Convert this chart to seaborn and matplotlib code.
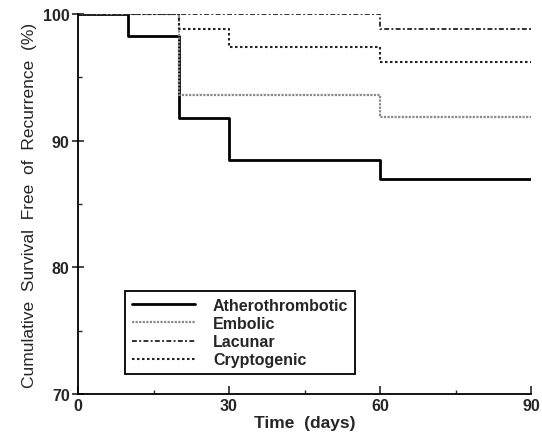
import pandas as pd
import matplotlib.pyplot as plt
import seaborn as sns
from matplotlib.ticker import MultipleLocator

days = [0, 10, 20, 30, 60, 90]
groups = ["Atherothrombotic", "Embolic", "Lacunar", "Cryptogenic"]
athero = [100, 98.3, 91.8, 88.5, 87.0, 87.0]
embolic = [100, 100, 93.6, 93.6, 91.9, 91.9]
lacunar = [100, 100, 100, 100, 98.8, 98.8]
crypto = [100, 100, 98.8, 97.4, 96.2, 96.2]

styles = {
    "Atherothrombotic": dict(color="black", lw=2.0, ls="-"),
    "Embolic": dict(color="#8a8a8a", lw=1.6, ls=(0, (1, 0.6))),
    "Lacunar": dict(color="#333333", lw=1.4, ls=(0, (2.5, 1.2, 1, 1.2))),
    "Cryptogenic": dict(color="#222222", lw=1.5, ls=(0, (1.2, 1.2))),
}


def main():
    sns.set_style("ticks")
    plt.rcParams["font.family"] = ["Liberation Sans", "DejaVu Sans"]

    df = pd.DataFrame({
        "day": days * 4,
        "survival": athero + embolic + lacunar + crypto,
        "group": [g for g in groups for _ in days],
    })

    fig = plt.figure(figsize=(5.42, 4.39), dpi=100)
    ax = fig.add_axes([78 / 542, 44 / 439, 453 / 542, 380 / 439])

    for g in groups:
        sub = df[df["group"] == g]
        st = styles[g]
        sns.lineplot(data=sub, x="day", y="survival", ax=ax, drawstyle="steps-post",
                     color=st["color"], linewidth=st["lw"], linestyle=st["ls"],
                     label=g, estimator=None)

    ax.set_xlim(0, 90)
    ax.set_ylim(70, 100)
    ax.set_xticks([0, 30, 60, 90])
    ax.set_yticks([70, 80, 90, 100])
    ax.xaxis.set_minor_locator(MultipleLocator(15))
    ax.yaxis.set_minor_locator(MultipleLocator(5))
    ax.tick_params(axis="x", which="major", direction="in", length=6, width=1.2, pad=3)
    ax.tick_params(axis="x", which="minor", direction="in", length=3, width=1)
    ax.tick_params(axis="y", which="major", direction="inout", length=8, width=1.2, pad=2)
    ax.tick_params(axis="y", which="minor", direction="in", length=3, width=1)
    for lab in ax.get_xticklabels() + ax.get_yticklabels():
        lab.set_fontweight("bold")
        lab.set_fontsize(11.5)
    sns.despine(ax=ax)
    for side in ["left", "bottom"]:
        ax.spines[side].set_linewidth(1.3)
        ax.spines[side].set_color("black")

    ax.set_xlabel("Time  (days)", fontsize=12.5, fontweight="bold", labelpad=1)
    ax.set_ylabel("Cumulative  Survival  Free  of  Recurrence  (%)", fontsize=12.5, labelpad=4)

    leg = ax.legend(loc="lower left", bbox_to_anchor=(0.104, 0.053), frameon=True,
                    fancybox=False, edgecolor="black", framealpha=1,
                    handlelength=4.0, handletextpad=1.1, borderpad=0.4,
                    labelspacing=0.2, borderaxespad=0,
                    prop={"weight": "bold", "size": 11.5})
    leg.get_frame().set_linewidth(1.3)

    fig.savefig("out.png", dpi=100)
    plt.close(fig)


if __name__ == "__main__":
    main()
